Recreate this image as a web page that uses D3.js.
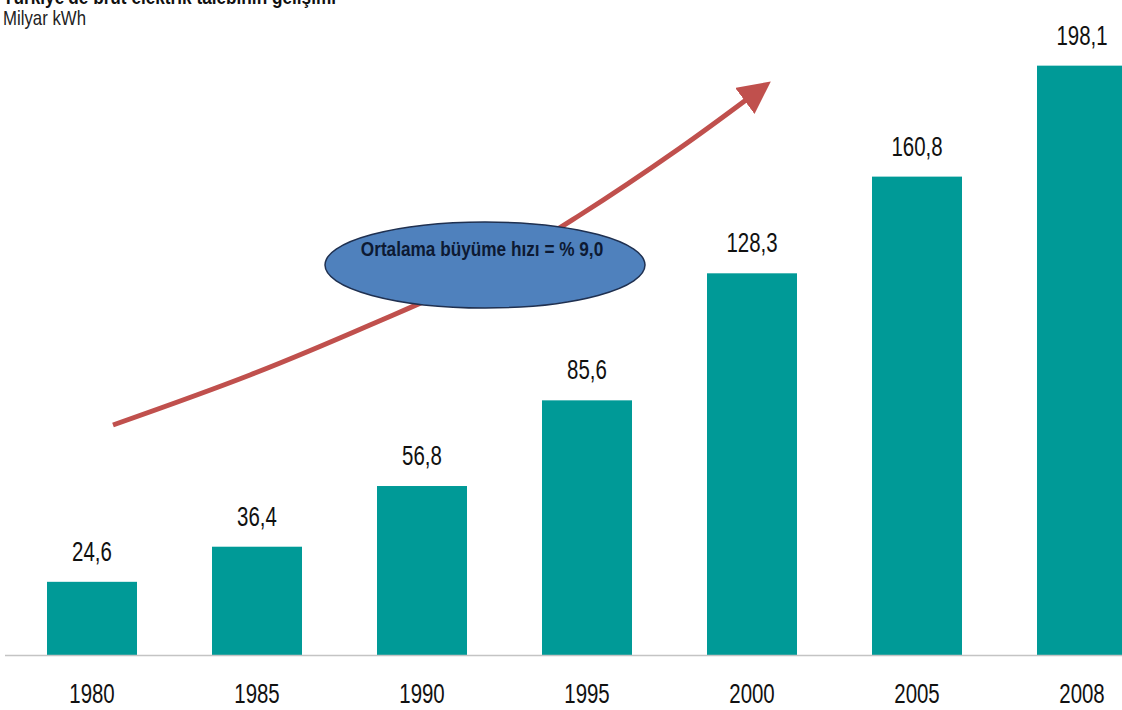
<!DOCTYPE html>
<html><head><meta charset="utf-8">
<script src="https://cdn.jsdelivr.net/npm/d3@7"></script>
<style>body{margin:0;background:#fff}svg{display:block}</style>
</head><body>
<svg id="c" width="1122" height="710"></svg>
<script>
const years = ["1980","1985","1990","1995","2000","2005","2008"];
const demand = [24.6, 36.4, 56.8, 85.6, 128.3, 160.8, 198.1];
const labels = ["24,6","36,4","56,8","85,6","128,3","160,8","198,1"];
const titleText = "Türkiye'de brüt elektrik talebinin gelişimi";
const unitText = "Milyar kWh";
const growthText = "Ortalama büyüme hızı = % 9,0";

const svg = d3.select("#c");
const W = 1122, H = 710;
const base = 655;
const font = "'Liberation Sans',Arial,sans-serif";
const sx = 0.73;

const x = d3.scaleBand().domain(years).range([-35.5, 1209.5]).paddingInner(75/165).paddingOuter(0.5);
const y = d3.scaleLinear().domain([0, 200]).range([base, 60]);

// bars
svg.append("g").selectAll("rect").data(years).join("rect")
  .attr("x", d => x(d)).attr("width", x.bandwidth())
  .attr("y", (d,i) => y(demand[i])).attr("height", (d,i) => base - y(demand[i]))
  .attr("fill", "#009a97");

// axis line
svg.append("line").attr("x1", 5).attr("x2", W).attr("y1", base + 0.5).attr("y2", base + 0.5)
  .attr("stroke", "#c4c4c4").attr("stroke-width", 1.5);

// x axis labels
const xAxis = d3.axisBottom(x).tickSize(0).tickPadding(0);
const gx = svg.append("g").attr("transform", `translate(0,${base})`).call(xAxis);
gx.select(".domain").remove();
gx.selectAll("text").attr("font-family", font).attr("font-size", 28).attr("fill", "#111")
  .attr("dy", null).attr("y", 0).attr("transform", `translate(0,48) scale(${sx},1)`);

// value labels
svg.append("g").selectAll("text").data(years).join("text")
  .attr("transform", (d,i) => `translate(${x(d) + x.bandwidth()/2},${y(demand[i]) - 21}) scale(${sx},1)`)
  .attr("text-anchor", "middle").attr("font-family", font).attr("font-size", 28).attr("fill", "#111")
  .text((d,i) => labels[i]);

// title + unit
svg.append("text").attr("transform", "translate(3,4) scale(0.82,1)").attr("font-family", font).attr("font-weight", "bold")
  .attr("font-size", 21).attr("fill", "#111").text(titleText);
svg.append("text").attr("transform", "translate(3,25) scale(0.84,1)").attr("font-family", font)
  .attr("font-size", 20).attr("fill", "#222").text(unitText);

// growth arrow
const defs = svg.append("defs");
defs.append("marker").attr("id", "ah").attr("viewBox", "0 0 10 10").attr("refX", 2).attr("refY", 5)
  .attr("markerWidth", 6.5).attr("markerHeight", 6.5).attr("orient", "auto")
  .append("path").attr("d", "M0,0 L10,5 L0,10 Z").attr("fill", "#c0504d");
const pts = [[113,425],[250,375],[370,325],[480,275],[580,215],[680,148],[750,97]];
svg.append("path").attr("d", d3.line().curve(d3.curveCatmullRom)(pts))
  .attr("fill", "none").attr("stroke", "#c0504d").attr("stroke-width", 5)
  .attr("marker-end", "url(#ah)");

// ellipse
svg.append("ellipse").attr("cx", 485).attr("cy", 265).attr("rx", 160).attr("ry", 43)
  .attr("fill", "#4f81bd").attr("stroke", "#1f3050").attr("stroke-width", 1.5);
svg.append("text").attr("transform", "translate(482,256) scale(0.82,1)").attr("text-anchor", "middle")
  .attr("font-family", font).attr("font-weight", "bold").attr("font-size", 21).attr("fill", "#0d1a33")
  .text(growthText);
</script>
</body></html>
